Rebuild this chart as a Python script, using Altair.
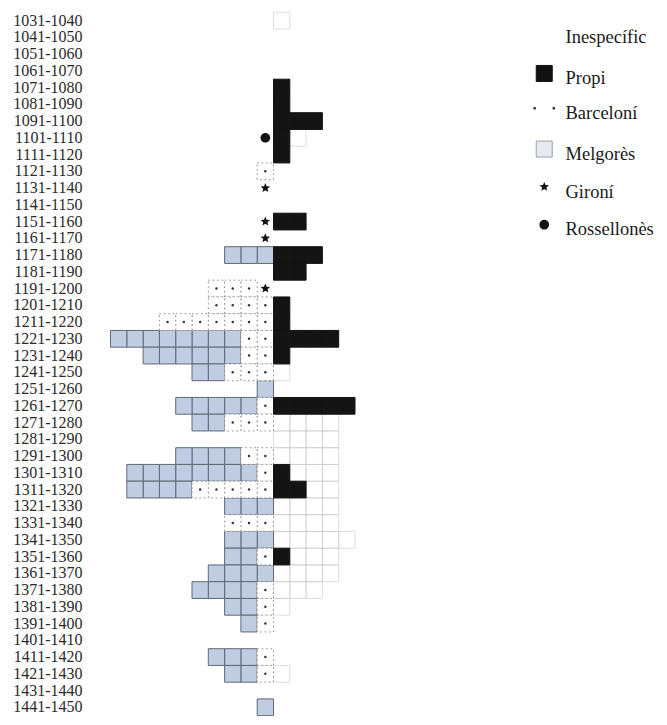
import math
import altair as alt
import pandas as pd

decades = [
    "1031-1040", "1041-1050", "1051-1060", "1061-1070", "1071-1080", "1081-1090",
    "1091-1100", "1101-1110", "1111-1120", "1121-1130", "1131-1140", "1141-1150",
    "1151-1160", "1161-1170", "1171-1180", "1181-1190", "1191-1200", "1201-1210",
    "1211-1220", "1221-1230", "1231-1240", "1241-1250", "1251-1260", "1261-1270",
    "1271-1280", "1281-1290", "1291-1300", "1301-1310", "1311-1320", "1321-1330",
    "1331-1340", "1341-1350", "1351-1360", "1361-1370", "1371-1380", "1381-1390",
    "1391-1400", "1401-1410", "1411-1420", "1421-1430", "1431-1440", "1441-1450",
]

categories = ["Inespecífic", "Propi", "Barceloní", "Melgorès", "Gironí", "Rossellonès"]

propi = [0, 0, 0, 0, 1, 1, 3, 1, 1, 0,
         0, 0, 2, 0, 3, 2, 0, 1, 1, 4,
         1, 0, 0, 5, 0, 0, 0, 1, 2, 0,
         0, 0, 1, 0, 0, 0, 0, 0, 0, 0,
         0, 0]
inespecific = [1, 0, 0, 0, 0, 0, 0, 1, 0, 0,
               0, 0, 0, 0, 0, 0, 0, 0, 0, 0,
               0, 1, 0, 0, 4, 4, 4, 3, 2, 4,
               4, 5, 3, 4, 3, 1, 0, 0, 0, 1,
               0, 0]
barceloni = [0, 0, 0, 0, 0, 0, 0, 0, 0, 1,
             0, 0, 0, 0, 0, 0, 3, 4, 7, 2,
             2, 3, 0, 1, 3, 0, 2, 1, 5, 0,
             3, 0, 1, 0, 1, 1, 1, 0, 1, 1,
             0, 0]
melgores = [0, 0, 0, 0, 0, 0, 0, 0, 0, 0,
            0, 0, 0, 0, 3, 0, 0, 0, 0, 8,
            6, 2, 1, 5, 2, 0, 4, 8, 4, 3,
            0, 3, 2, 4, 4, 2, 1, 0, 3, 2,
            0, 1]
gironi = [0, 0, 0, 0, 0, 0, 0, 0, 0, 0,
          1, 0, 1, 1, 0, 0, 1, 0, 0, 0,
          0, 0, 0, 0, 0, 0, 0, 0, 0, 0,
          0, 0, 0, 0, 0, 0, 0, 0, 0, 0,
          0, 0]
rossellones = [0, 0, 0, 0, 0, 0, 0, 1, 0, 0,
               0, 0, 0, 0, 0, 0, 0, 0, 0, 0,
               0, 0, 0, 0, 0, 0, 0, 0, 0, 0,
               0, 0, 0, 0, 0, 0, 0, 0, 0, 0,
               0, 0]

# ---- one record per unit cell (left: markers, Barceloní, Melgorès; right: Propi, Inespecífic)
rows = []
for i, d in enumerate(decades):
    left = 0
    for cat, arr in [("Gironí", gironi), ("Rossellonès", rossellones),
                     ("Barceloní", barceloni), ("Melgorès", melgores)]:
        for _ in range(arr[i]):
            rows.append({"decada": d, "tipus": cat, "x": -(left + 1), "x2": -left})
            left += 1
    right = 0
    for cat, arr in [("Propi", propi), ("Inespecífic", inespecific)]:
        for _ in range(arr[i]):
            rows.append({"decada": d, "tipus": cat, "x": right, "x2": right + 1})
            right += 1
df = pd.DataFrame(rows)
df["xc"] = (df["x"] + df["x2"]) / 2

# ---- symbol paths (unit box, shifted up so legend symbols sit a little above the text middle)
DY = -0.6
def star_path(ro, ri, dy):
    pts = []
    for k in range(10):
        a = math.radians(-90 + 36 * k)
        r = ro if k % 2 == 0 else ri
        pts.append(f"{r * math.cos(a):.3f},{r * math.sin(a) + dy:.3f}")
    return "M" + "L".join(pts) + "Z"

square = f"M-1,{-1 + DY}H1V{1 + DY}H-1Z"
dots = f"M-1.35,{-0.45 + DY / 2}h0.3v0.3h-0.3Z M1.05,{-0.45 + DY / 2}h0.3v0.3h-0.3Z"
circle = f"M-0.6,{DY} a0.6,0.6 0 1,0 1.2,0 a0.6,0.6 0 1,0 -1.2,0 Z"
star = star_path(0.62, 0.28, DY)

shape_range = [square, square, dots, square, star, circle]
fill_range = ["transparent", "#111111", "#333333", "#e6eaef", "#111111", "#111111"]
stroke_range = ["transparent", "#111111", "transparent", "#9aa2ac", "transparent", "transparent"]

UNIT = 16.3
LEFT_PAD = 82
xmin = -(273.5 - 8 - LEFT_PAD) / UNIT
PLOT_W = 555
xmax = xmin + PLOT_W / UNIT
ROW_H = 16.75
PLOT_H = ROW_H * len(decades)

xs = alt.Scale(domain=[xmin, xmax], nice=False, zero=False)
ys = alt.Scale(domain=decades, paddingInner=0, paddingOuter=0)
X = alt.X("x:Q", scale=xs, axis=None)
Y = alt.Y("decada:N", sort=decades, scale=ys,
          axis=alt.Axis(title=None, domain=False, ticks=False, tickSize=0, grid=False,
                        labelFont="Liberation Serif", labelFontSize=16, labelColor="#2a2a2a",
                        labelPadding=8, labelAngle=0))

base = alt.Chart(df)

melg = base.transform_filter(alt.datum.tipus == "Melgorès").mark_rect(
    fill="#bfcce2", stroke="#5f6875", strokeWidth=1
).encode(x=X, x2="x2", y=Y)

barc = base.transform_filter(alt.datum.tipus == "Barceloní").mark_rect(
    fill="white", stroke="#8a8a8a", strokeWidth=1, strokeDash=[1.5, 3]
).encode(x=X, x2="x2", y=Y)

barc_dots = base.transform_filter(alt.datum.tipus == "Barceloní").mark_circle(
    size=6, color="#333333", opacity=1
).encode(x=alt.X("xc:Q", scale=xs, axis=None), y=Y)

prop = base.transform_filter(alt.datum.tipus == "Propi").mark_rect(
    fill="#141414", stroke="#141414", strokeWidth=1
).encode(x=X, x2="x2", y=Y)

ines = base.transform_filter(alt.datum.tipus == "Inespecífic").mark_rect(
    fill="transparent", stroke="#c8c8c8", strokeWidth=0.6
).encode(x=X, x2="x2", y=Y)

leg = alt.Legend(
    title=None, orient="none", legendX=445, legendY=16, padding=0,
    labelFont="Liberation Serif", labelFontSize=18.5, labelColor="#1a1a1a",
    symbolSize=256, symbolStrokeWidth=1, rowPadding=15.8, labelOffset=12,
)

marks = base.transform_filter(
    (alt.datum.tipus == "Gironí") | (alt.datum.tipus == "Rossellonès")
).mark_point(filled=True, size=256, opacity=1, yOffset=4.8, strokeWidth=1).encode(
    x=alt.X("xc:Q", scale=xs, axis=None),
    y=Y,
    shape=alt.Shape("tipus:N", scale=alt.Scale(domain=categories, range=shape_range), legend=leg),
    fill=alt.Fill("tipus:N", scale=alt.Scale(domain=categories, range=fill_range), legend=leg),
    stroke=alt.Stroke("tipus:N", scale=alt.Scale(domain=categories, range=stroke_range), legend=leg),
)

chart = alt.layer(ines, melg, barc, barc_dots, prop, marks).properties(
    width=PLOT_W, height=PLOT_H,
    padding={"left": LEFT_PAD, "top": 4.2, "right": 14, "bottom": 0},
    autosize="none",
    background="white",
).configure_view(stroke=None, strokeWidth=0)

chart.save("out.html", embed_options={"renderer": "svg", "actions": False})
